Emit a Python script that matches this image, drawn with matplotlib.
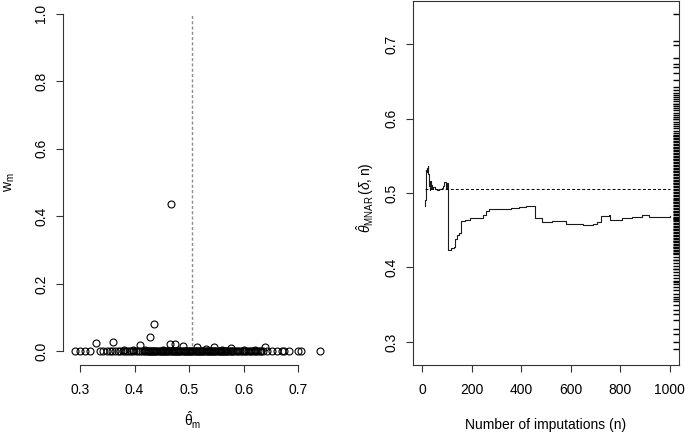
import matplotlib
matplotlib.use('Agg')
import matplotlib.pyplot as plt
import matplotlib.transforms as mtransforms

plt.rcParams['font.family'] = ['Liberation Sans', 'DejaVu Sans']
plt.rcParams['mathtext.fontset'] = 'custom'
plt.rcParams['mathtext.rm'] = 'Liberation Sans'
plt.rcParams['mathtext.it'] = 'Liberation Sans:italic'
plt.rcParams['mathtext.bf'] = 'Liberation Sans:bold'

# ---------------- data: left panel (theta_m, w_m) ----------------
theta_tail_low = [0.291, 0.300, 0.310, 0.318, 0.337, 0.343, 0.349, 0.355, 0.358, 0.364]
theta_band_a = [0.370, 0.374, 0.378, 0.382, 0.386, 0.390, 0.394, 0.398, 0.402, 0.406,
                0.410, 0.414, 0.418]
theta_band_b = [0.420, 0.422, 0.424, 0.426, 0.428, 0.430, 0.432, 0.434, 0.436, 0.438,
                0.440, 0.442, 0.444, 0.446, 0.448, 0.450, 0.452, 0.454, 0.456, 0.458,
                0.460, 0.462, 0.464, 0.466, 0.468, 0.470, 0.472, 0.474, 0.476, 0.478,
                0.480, 0.482, 0.484, 0.486, 0.488, 0.490, 0.492, 0.494, 0.496, 0.498,
                0.500, 0.502, 0.504, 0.506, 0.508, 0.510, 0.512, 0.514, 0.516, 0.518,
                0.520, 0.522, 0.524, 0.526, 0.528, 0.530, 0.532, 0.534, 0.536, 0.538,
                0.540, 0.542, 0.544, 0.546, 0.548, 0.550, 0.552, 0.554, 0.556, 0.558,
                0.560, 0.562, 0.564, 0.566, 0.568, 0.570, 0.572, 0.574, 0.576, 0.578]
theta_band_c = [0.581, 0.584, 0.587, 0.590, 0.593, 0.596, 0.599, 0.602, 0.605, 0.608,
                0.611, 0.614, 0.617, 0.620, 0.623, 0.626, 0.629, 0.632, 0.635]
theta_tail_high = [0.642, 0.652, 0.661, 0.670, 0.674, 0.682, 0.699, 0.704, 0.740]

theta_raised = [0.466, 0.436, 0.428, 0.329, 0.360, 0.410, 0.465, 0.474, 0.488, 0.514,
                0.546, 0.577, 0.639, 0.380, 0.398, 0.420, 0.452, 0.530, 0.560, 0.600,
                0.620]
w_raised = [0.437, 0.082, 0.044, 0.025, 0.028, 0.018, 0.023, 0.023, 0.016, 0.013,
            0.013, 0.011, 0.013, 0.005, 0.004, 0.004, 0.005, 0.006, 0.005, 0.004,
            0.004]

theta_reference = 0.505

# ---------------- data: right panel (running estimate) ----------------
n_imp = [10, 12, 14, 16, 18, 20, 22, 24, 26, 28, 30, 32, 34, 36, 40, 45, 50, 60, 70,
         80, 86, 90, 95, 100, 104, 115, 128, 133, 140, 147, 157, 175, 195, 227, 247,
         256, 270, 320, 360, 390, 420, 455, 483, 523, 583, 650, 691, 705, 723, 757,
         761, 806, 850, 890, 917, 1000]
theta_run = [0.482, 0.490, 0.531, 0.528, 0.533, 0.530, 0.537, 0.525, 0.520, 0.510,
             0.504, 0.516, 0.507, 0.511, 0.506, 0.508, 0.505, 0.504, 0.505, 0.507,
             0.510, 0.515, 0.506, 0.513, 0.424, 0.426, 0.427, 0.438, 0.444, 0.446,
             0.462, 0.464, 0.466, 0.467, 0.471, 0.476, 0.478, 0.479, 0.480, 0.481,
             0.482, 0.466, 0.4615, 0.463, 0.4587, 0.4573, 0.459, 0.461, 0.4693, 0.4707,
             0.464, 0.467, 0.468, 0.4707, 0.468, 0.469]

# ---------------- figure ----------------
W, H = 685, 434
fig = plt.figure(figsize=(W / 100, H / 100), dpi=100)

axcol = '#333333'
fs = 10

# Left panel
ax1 = fig.add_axes([63 / W, 69 / H, (330 - 63) / W, 365 / H])
band = theta_band_a + theta_band_b + theta_band_c
zeros_x = theta_tail_low + band + theta_tail_high
ax1.plot([theta_reference, theta_reference], [0, 1], color='#8c8c8c', lw=1.0,
         ls=(0, (2.2, 1.6)), zorder=1)
ax1.plot(zeros_x, [0.0] * len(zeros_x), 'o', mfc='none', mec='k', ms=5, mew=0.8,
         zorder=2)
ax1.plot(theta_raised, w_raised, 'o', mfc='none', mec='k', ms=5, mew=0.8, zorder=2)
ax1.set_xlim(0.269, 0.758)
ax1.set_ylim(-0.04, 1.04)
for s in ['top', 'right']:
    ax1.spines[s].set_visible(False)
ax1.spines['left'].set_bounds(0, 1)
ax1.spines['bottom'].set_bounds(0.3, 0.7)
for s in ['left', 'bottom']:
    ax1.spines[s].set_color(axcol)
    ax1.spines[s].set_linewidth(0.8)
ax1.set_xticks([0.3, 0.4, 0.5, 0.6, 0.7])
ax1.set_xticklabels(['0.3', '0.4', '0.5', '0.6', '0.7'])
ax1.set_yticks([0.0, 0.2, 0.4, 0.6, 0.8, 1.0])
ax1.set_yticklabels(['0.0', '0.2', '0.4', '0.6', '0.8', '1.0'])
ax1.tick_params(axis='x', length=5, width=0.8, color=axcol, pad=8, labelsize=fs)
ax1.tick_params(axis='y', length=5, width=0.8, color=axcol, pad=5.6, labelsize=fs,
                labelrotation=90)
for lab in ax1.get_yticklabels():
    lab.set_va('center')
ax1.set_xlabel(r'$\hat{\mathrm{\theta}}_{\mathrm{m}}$', fontsize=fs)
ax1.xaxis.set_label_coords((193 - 63) / 267, -55 / 365)
ax1.xaxis.label.set_va('center')
ax1.set_ylabel(r'$\mathrm{w}_{\mathrm{m}}$', fontsize=fs)
ax1.yaxis.set_label_coords((10 - 63) / 267, 0.5)
ax1.yaxis.label.set_va('center')

# Right panel
ax2 = fig.add_axes([413 / W, 69 / H, (679 - 413) / W, 364 / H])
ax2.plot(n_imp, theta_run, drawstyle='steps-post', color='#1a1a1a', lw=0.8)
ax2.plot([n_imp[0], n_imp[-1]], [theta_reference, theta_reference], color='k', lw=0.7,
         ls=(0, (3, 2.2)))
trans = mtransforms.blended_transform_factory(ax2.transAxes, ax2.transData)
all_theta = zeros_x + theta_raised
ax2.hlines(all_theta, 0.977, 1.0, transform=trans, color='k', lw=1.0)
ax2.set_xlim(-37, 1038)
ax2.set_ylim(0.269, 0.758)
for s in ax2.spines.values():
    s.set_color(axcol)
    s.set_linewidth(0.8)
ax2.set_xticks([0, 200, 400, 600, 800, 1000])
ax2.set_xticklabels(['0', '200', '400', '600', '800', '1000'])
ax2.set_yticks([0.3, 0.4, 0.5, 0.6, 0.7])
ax2.set_yticklabels(['0.3', '0.4', '0.5', '0.6', '0.7'])
ax2.tick_params(axis='x', length=5, width=0.8, color=axcol, pad=8, labelsize=fs)
ax2.tick_params(axis='y', length=5, width=0.8, color=axcol, pad=5.6, labelsize=fs,
                labelrotation=90)
for lab in ax2.get_yticklabels():
    lab.set_va('center')
ax2.set_xlabel('Number of imputations (n)', fontsize=fs)
ax2.xaxis.set_label_coords(0.5, -60 / 364)
ax2.xaxis.label.set_va('center')
ax2.set_ylabel(r'$\hat{\theta}_{\mathrm{MNAR}}\,(\delta,\mathrm{n})$', fontsize=fs)
ax2.yaxis.set_label_coords((365 - 413) / 266, 0.46)
ax2.yaxis.label.set_va('center')

fig.savefig('out.png', dpi=100)
